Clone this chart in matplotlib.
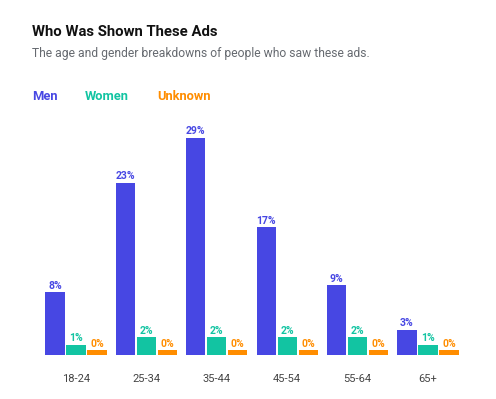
import matplotlib
matplotlib.use('Agg')
import matplotlib.pyplot as plt
import numpy as np

# Data
groups = ['18-24', '25-34', '35-44', '45-54', '55-64', '65+']
men = [8.4, 23.0, 29.0, 17.1, 9.3, 3.4]
women = [1.4, 2.4, 2.4, 2.4, 2.4, 1.4]
unknown = [0.0, 0.0, 0.0, 0.0, 0.0, 0.0]
series_names = ['Men', 'Women', 'Unknown']
colors = ['#4747e3', '#12c4a2', '#ff8d00']

W, H = 496, 399
fig = plt.figure(figsize=(W / 100, H / 100), dpi=100)
plt.rcParams['font.family'] = ['Roboto', 'DejaVu Sans']


def fx(px):
    return px / W


def fy(py):
    return 1 - py / H


# Title, subtitle, legend
fig.text(fx(32), fy(32), 'Who Was Shown These Ads', fontsize=10.7, fontweight='bold',
         color='#111111', va='center', ha='left')
fig.text(fx(32), fy(53), 'The age and gender breakdowns of people who saw these ads.',
         fontsize=8.7, color='#666a70', va='center', ha='left')
for name, c, x in zip(series_names, colors, [32, 85, 157]):
    fig.text(fx(x), fy(97), name, fontsize=9.3, fontweight='bold', color=c,
             va='center', ha='left')

# Bars
ax = fig.add_axes([fx(30), 44 / H, 444 / W, 235 / H])
x = np.arange(len(groups))
width = 0.275
step = 0.298
min_h = 0.65
for k, (vals, c) in enumerate(zip([men, women, unknown], colors)):
    pos = x + (k - 1) * step
    heights = [max(v, min_h) for v in vals]
    ax.bar(pos, heights, width=width, color=c)
    for p, h, v in zip(pos, heights, vals):
        ax.text(p, h + 0.2, f'{round(v)}%', ha='center', va='bottom',
                fontsize=7.5, fontweight='bold', color=c)

ax.set_xlim(-0.653, 5.653)
ax.set_ylim(0, 31.4)
ax.set_xticks(x)
ax.set_xticklabels(groups, fontsize=8, color='#444444')
ax.tick_params(axis='x', length=0, pad=14)
ax.set_yticks([])
for s in ax.spines.values():
    s.set_visible(False)

plt.savefig('out.png', dpi=100)
